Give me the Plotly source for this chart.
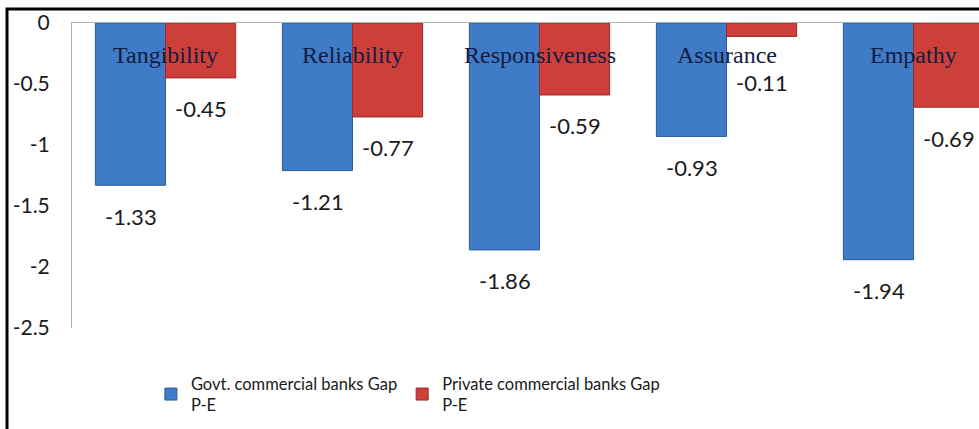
import plotly.graph_objects as go

categories = ["Tangibility", "Reliability", "Responsiveness", "Assurance", "Empathy"]
govt_gap = [-1.33, -1.21, -1.86, -0.93, -1.94]
private_gap = [-0.45, -0.77, -0.59, -0.11, -0.69]
series_names = ["Govt. commercial banks Gap<br>P-E", "Private commercial banks Gap<br>P-E"]
y_ticks = [0, -0.5, -1, -1.5, -2, -2.5]
y_ticklabels = ["0", "-0.5", "-1", "-1.5", "-2", "-2.5"]

BLUE = "#3f7bc6"
RED = "#cf3f3a"

fig = go.Figure()
fig.add_trace(go.Bar(x=categories, y=govt_gap, name=series_names[0],
                     marker=dict(color=BLUE, line=dict(color="#2a5c99", width=1))))
fig.add_trace(go.Bar(x=categories, y=private_gap, name=series_names[1],
                     marker=dict(color=RED, line=dict(color="#9a2a26", width=1))))

ann = []
# category labels inside the plot near the zero line
for c in categories:
    ann.append(dict(x=c, y=0, xref="x", yref="y", text=c, showarrow=False,
                    yanchor="middle", yshift=-32,
                    font=dict(family="Liberation Serif", size=24, color="#131c40")))
# data labels under each bar end (the Assurance private label sits a bit lower)
extra_drop = {(1, "Assurance"): 15}
for si, (vals, dx) in enumerate(((govt_gap, -35), (private_gap, 35))):
    for c, v in zip(categories, vals):
        ann.append(dict(x=c, y=v, xref="x", yref="y", text=f"{v:.2f}", showarrow=False,
                        xshift=dx, yanchor="middle",
                        yshift=-31 - extra_drop.get((si, c), 0),
                        font=dict(family="Lato", size=22, color="#1a1a1a")))

fig.update_layout(
    width=979, height=429,
    margin=dict(l=72, r=0, t=23, b=101),
    paper_bgcolor="white", plot_bgcolor="white",
    barmode="group", bargap=0.25, bargroupgap=0,
    annotations=ann,
    showlegend=True,
    legend=dict(orientation="h", x=0.087, xanchor="left", y=-0.125, yanchor="top",
                font=dict(family="Lato", size=16.5, color="#1a1a1a"),
                bgcolor="rgba(0,0,0,0)", traceorder="normal"),
    xaxis=dict(range=[-0.5, 4.35], side="top", showline=True, linecolor="#b0b0b0",
               linewidth=1, showticklabels=False, ticks="", showgrid=False,
               zeroline=False, fixedrange=True),
    yaxis=dict(range=[-2.5, 0], tickvals=y_ticks, ticktext=y_ticklabels,
               showline=True, linecolor="#b0b0b0", linewidth=1, showgrid=False,
               zeroline=False, ticks="", ticklabelstandoff=17,
               tickfont=dict(family="Lato", size=21, color="#1a1a1a")),
    shapes=[dict(type="rect", xref="paper", yref="paper",
                 x0=(7 - 72) / 907, x1=1.2, y0=-0.6, y1=(328 - 9) / 305,
                 line=dict(color="black", width=3), fillcolor="rgba(0,0,0,0)")],
)

fig.write_html("out.html", config={"displayModeBar": False},
               post_script="document.body.style.margin='0';document.body.style.overflow='hidden';")
